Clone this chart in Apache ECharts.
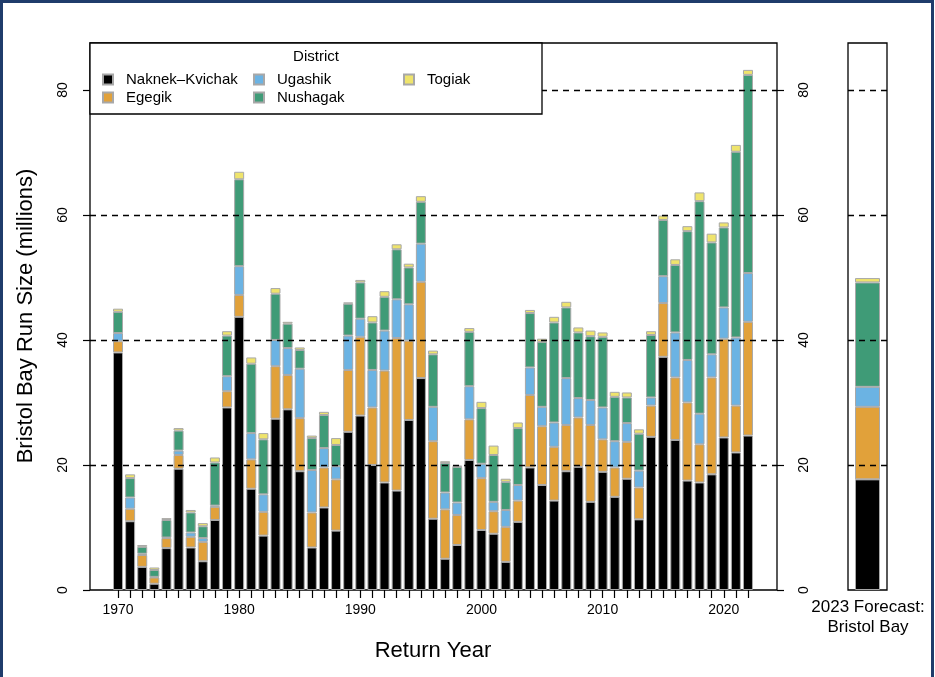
<!DOCTYPE html>
<html>
<head>
<meta charset="utf-8">
<script src="https://cdn.jsdelivr.net/npm/echarts@6/dist/echarts.min.js"></script>
<style>
html,body{margin:0;padding:0;background:#fff;}
#chart{width:935px;height:677px;}
</style>
</head>
<body>
<div id="chart"></div>
<script>
const years = [];
for (let y = 1970; y <= 2022; y++) years.push(y);
const naknekKvichak = [38.0,11.0,3.7,1.0,6.7,19.4,6.8,4.6,11.2,29.2,43.7,16.2,8.7,27.4,28.9,19.0,6.8,13.2,9.5,25.3,27.9,20.0,17.2,15.9,27.2,33.9,11.4,5.0,7.2,20.8,9.6,9.0,4.5,10.9,19.6,16.8,14.3,19.0,19.7,14.1,18.9,14.9,17.8,11.3,24.5,37.3,24.0,17.5,17.2,18.5,24.4,22.0,24.7];
const egegik = [1.8,2.0,1.9,1.0,1.6,2.2,1.7,3.1,2.1,2.6,3.5,4.7,3.8,8.4,5.5,8.5,5.6,6.4,8.2,9.9,12.6,9.2,17.9,24.4,12.7,15.4,12.4,7.9,4.8,6.5,8.3,3.6,5.6,3.4,11.6,9.4,8.6,7.4,7.9,12.3,5.2,4.7,5.9,5.1,5.0,8.6,10.0,12.5,6.1,15.5,15.8,7.5,18.2];
const ugashik = [1.3,1.8,0.2,0.1,0.1,0.7,0.7,0.6,0.2,2.4,4.6,4.2,2.8,4.2,4.3,7.9,6.8,3.1,2.1,5.5,2.9,6.0,6.4,6.2,5.8,6.1,5.5,2.7,2.0,5.3,2.3,1.5,2.7,2.5,4.4,3.1,3.9,7.5,3.1,4.0,5.1,4.2,3.0,2.7,1.3,4.3,7.2,6.8,4.9,3.7,5.0,10.9,7.8];
const nushagak = [3.4,3.1,1.1,1.1,2.8,3.2,3.2,1.9,6.9,6.5,13.9,11.1,8.8,7.4,3.9,3.0,5.1,5.3,3.4,5.1,5.8,7.6,5.4,8.0,5.9,6.7,8.4,4.7,5.7,8.7,8.9,7.5,4.5,9.1,8.7,10.4,16.0,11.3,10.5,10.2,11.3,7.1,4.1,5.9,10.0,9.0,10.8,20.6,34.0,17.9,12.8,29.7,31.7];
const togiak = [0.5,0.6,0.3,0.4,0.3,0.4,0.4,0.5,0.8,0.7,1.2,1.0,1.0,0.9,0.3,0.4,0.4,0.5,1.1,0.2,0.4,1.0,0.9,0.8,0.6,0.9,0.6,0.3,0.2,0.6,1.0,1.5,0.5,0.9,0.5,0.5,0.9,0.9,0.8,0.9,0.7,0.8,0.8,0.7,0.6,0.7,0.9,0.8,1.4,1.4,0.8,1.1,0.8];
const forecastLabel = ['2023 Forecast:', 'Bristol Bay'];
const forecast = [17.7, 11.6, 3.2, 16.7, 0.7];
const districts = ['Naknek–Kvichak','Egegik','Ugashik','Nushagak','Togiak'];
const xLabelYears = [1970,1980,1990,2000,2010,2020];
const yTicks = [0,20,40,60,80];

const colors = ['#000000','#E1A13A','#6BB3E3','#3F9B77','#EFE46C'];
const seriesData = [naknekKvichak, egegik, ugashik, nushagak, togiak];
const FONT = 'Liberation Sans, Arial, Helvetica, sans-serif';

// layout (pixels)
const BOX = {left: 90, top: 43, width: 687, height: 547};
const PITCH = 12.115;           // px per year
const FIRST_X = 118;            // centre of 1970 bar
const X_MIN = 1970 - (FIRST_X - BOX.left) / PITCH;
const X_MAX = X_MIN + BOX.width / PITCH;

const gridLineMark = {
  silent: true, symbol: 'none', z: 10,
  label: {show: false},
  lineStyle: {color: '#000', type: [6, 5], width: 1.3},
  data: yTicks.filter(v => v > 0).map(v => ({yAxis: v}))
};

const series = [];
// invisible carrier of the dashed reference lines on the main box
series.push({
  name: '_ref', type: 'line', xAxisIndex: 0, yAxisIndex: 0, silent: true,
  data: [[1970, 0]], symbol: 'none', lineStyle: {opacity: 0}, markLine: gridLineMark, z: 1
});
districts.forEach((name, i) => {
  series.push({
    name: name, type: 'bar', stack: 'main', xAxisIndex: 2, yAxisIndex: 3,
    barWidth: 10,
    itemStyle: {color: colors[i], borderColor: '#a8a8a8', borderWidth: 1},
    data: seriesData[i]
  });
});
districts.forEach((name, i) => {
  const s = {
    name: name, type: 'bar', stack: 'fc', xAxisIndex: 1, yAxisIndex: 2,
    barWidth: 25,
    itemStyle: {color: colors[i], borderColor: '#a8a8a8', borderWidth: 1},
    data: [forecast[i]]
  };
  if (i === 4) s.markLine = gridLineMark;
  series.push(s);
});

const legendCommon = {
  orient: 'vertical', top: 72, itemWidth: 10, itemHeight: 10, itemGap: 3,
  icon: 'rect', selectedMode: false, z: 200, padding: 0,
  textStyle: {fontSize: 15, color: '#000', fontFamily: FONT, padding: [0,0,0,8]}
};

const chart = echarts.init(document.getElementById('chart'));
chart.setOption({
  animation: false,
  backgroundColor: '#fff',
  textStyle: {fontFamily: FONT},
  grid: [
    {left: BOX.left, top: BOX.top, width: BOX.width, height: BOX.height, show: true, borderColor: '#000', borderWidth: 1.3, containLabel: false},
    {left: 848, top: 43, width: 39, height: 547, show: true, borderColor: '#000', borderWidth: 1.3, containLabel: false},
    {left: FIRST_X - PITCH / 2, top: BOX.top, width: PITCH * years.length, height: BOX.height, show: false, containLabel: false}
  ],
  xAxis: [
    {type: 'value', gridIndex: 0, min: X_MIN, max: X_MAX,
     axisLine: {show: false}, splitLine: {show: false},
     axisTick: {show: true, length: 8, lineStyle: {color: '#000', width: 1.2}, customValues: years},
     axisLabel: {customValues: xLabelYears, formatter: v => String(Math.round(v)), fontSize: 14, color: '#000', margin: 13, fontFamily: FONT}},
    {type: 'category', gridIndex: 1, data: ['2023'], show: false},
    {type: 'category', gridIndex: 2, data: years.map(String), show: false}
  ],
  yAxis: [
    {type: 'value', gridIndex: 0, min: 0, max: 87.5, position: 'left',
     axisLine: {show: false}, splitLine: {show: false},
     axisTick: {show: true, length: 7, lineStyle: {color: '#000', width: 1.2}, customValues: yTicks},
     axisLabel: {customValues: yTicks, rotate: 90, fontSize: 14, color: '#000', margin: 20, fontFamily: FONT}},
    {type: 'value', gridIndex: 0, min: 0, max: 87.5, position: 'right',
     axisLine: {show: false}, splitLine: {show: false},
     axisTick: {show: true, length: 7, lineStyle: {color: '#000', width: 1.2}, customValues: yTicks},
     axisLabel: {customValues: yTicks, rotate: 90, fontSize: 14, color: '#000', margin: 20, fontFamily: FONT}},
    {type: 'value', gridIndex: 1, min: 0, max: 87.5, show: false, splitLine: {show: false}},
    {type: 'value', gridIndex: 2, min: 0, max: 87.5, show: false, splitLine: {show: false}}
  ],
  legend: [
    Object.assign({}, legendCommon, {left: 102, data: ['Naknek–Kvichak','Egegik']}),
    Object.assign({}, legendCommon, {left: 253, data: ['Ugashik','Nushagak']}),
    Object.assign({}, legendCommon, {left: 403, data: ['Togiak']})
  ],
  graphic: [
    {type: 'rect', z: 100, shape: {x: 1.5, y: 1.5, width: 931, height: 690}, style: {fill: 'none', stroke: '#1f3c6b', lineWidth: 3}},
    {type: 'rect', z: 100, shape: {x: 90, y: 43, width: 452, height: 71}, style: {fill: '#fff', stroke: '#000', lineWidth: 1.3}},
    {type: 'text', z: 101, x: 316, y: 57, style: {text: 'District', fontSize: 15, fontFamily: FONT, fill: '#000', align: 'center', verticalAlign: 'middle'}},
    {type: 'text', z: 101, x: 26, y: 316, rotation: Math.PI / 2, style: {text: 'Bristol Bay Run Size (millions)', fontSize: 22, fontFamily: FONT, fill: '#000', align: 'center', verticalAlign: 'middle'}},
    {type: 'text', z: 101, x: 433, y: 651, style: {text: 'Return Year', fontSize: 22, fontFamily: FONT, fill: '#000', align: 'center', verticalAlign: 'middle'}},
    {type: 'text', z: 101, x: 868, y: 607, style: {text: forecastLabel[0], fontSize: 17, fontFamily: FONT, fill: '#000', align: 'center', verticalAlign: 'middle'}},
    {type: 'text', z: 101, x: 868, y: 627, style: {text: forecastLabel[1], fontSize: 17, fontFamily: FONT, fill: '#000', align: 'center', verticalAlign: 'middle'}}
  ],
  series: series
});
</script>
</body>
</html>
